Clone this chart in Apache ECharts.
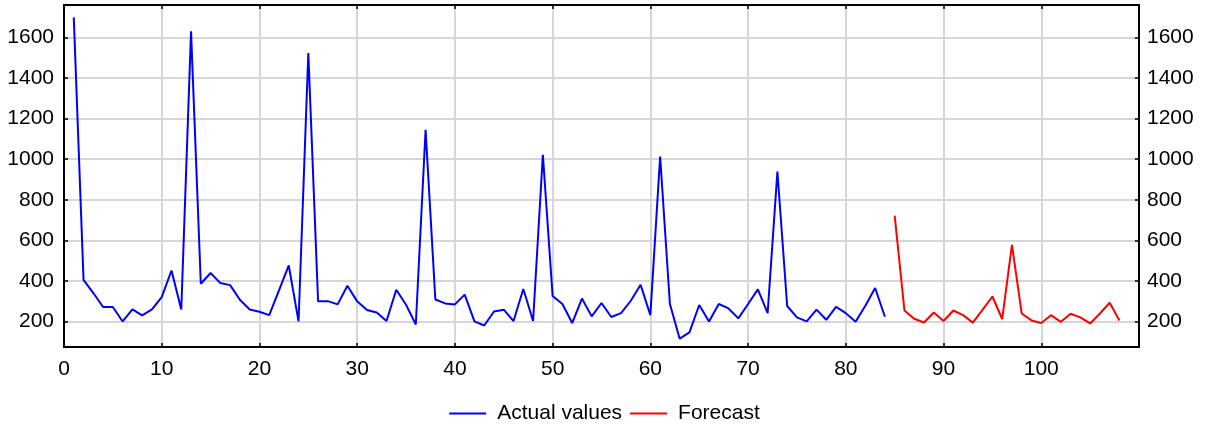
<!DOCTYPE html>
<html>
<head>
<meta charset="utf-8">
<script src="https://cdn.jsdelivr.net/npm/echarts@6/dist/echarts.min.js"></script>
<style>
html,body{margin:0;padding:0;background:#fff;}
#chart{width:1209px;height:427px;}
</style>
</head>
<body>
<div id="chart"></div>
<script>
// Actual values, periods 1..84
const actualValues = [
  1699, 405, 340, 271, 271, 200, 259, 230, 259, 320,
  451, 259, 1630, 386, 439, 389, 379, 307, 259, 248,
  231, 353, 476, 200, 1523, 299, 300, 284, 376, 299,
  256, 244, 202, 356, 282, 185, 1145, 308, 289, 284,
  332, 200, 180, 249, 258, 202, 360, 202, 1022, 325,
  286, 192, 313, 225, 291, 222, 241, 302, 381, 231,
  1013, 286, 115, 146, 281, 200, 286, 264, 215, 286,
  358, 241, 939, 276, 220, 200, 258, 208, 272, 241,
  198, 277, 365, 223
];
// Forecast values, periods 85..108
const forecastValues = [
  722, 254, 213, 195, 244, 202, 254, 231, 194, 258,
  323, 212, 577, 239, 205, 192, 231, 198, 238, 220,
  190, 239, 292, 205
];
const forecastStart = 85;
const xTickLabels = [0, 10, 20, 30, 40, 50, 60, 70, 80, 90, 100];
const yTickLabels = [200, 400, 600, 800, 1000, 1200, 1400, 1600];
const seriesNames = ['Actual values', 'Forecast'];

const actualData = actualValues.map((v, i) => [i + 1, v]);
const forecastData = forecastValues.map((v, i) => [forecastStart + i, v]);

const FONT = 'Liberation Sans, Arial, sans-serif';
const gridColor = '#d6d6d6';
const plain = v => String(v);

const chart = echarts.init(document.getElementById('chart'), null, {renderer: 'canvas'});

const yCommon = {
  type: 'value',
  min: 74,
  max: 1760,
  axisLine: {show: true, onZero: false, lineStyle: {color: '#000', width: 2}},
  axisTick: {show: true, inside: true, length: 4, customValues: yTickLabels, lineStyle: {color: '#000', width: 1.5}},
  axisLabel: {show: true, customValues: yTickLabels, formatter: plain, color: '#000', fontFamily: FONT, fontSize: 21},
  splitLine: {show: false}
};

chart.setOption({
  animation: false,
  backgroundColor: '#fff',
  grid: {left: 64, right: 70, top: 5, bottom: 80, containLabel: false},
  legend: {
    data: seriesNames,
    left: 'center',
    top: 398,
    icon: 'rect',
    itemWidth: 37,
    itemHeight: 2,
    itemGap: 8,
    textStyle: {color: '#000', fontFamily: FONT, fontSize: 21, padding: [0, 0, 0, 6]}
  },
  xAxis: [
    {
      type: 'value', min: 0, max: 110, interval: 10, position: 'bottom',
      axisLine: {show: true, onZero: false, lineStyle: {color: '#000', width: 2}},
      axisTick: {show: true, inside: true, length: 4, lineStyle: {color: '#000', width: 1.5}},
      axisLabel: {show: true, customValues: xTickLabels, formatter: plain, color: '#000', fontFamily: FONT, fontSize: 21, margin: 12},
      splitLine: {show: true, lineStyle: {color: gridColor, width: 2}}
    },
    {
      type: 'value', min: 0, max: 110, interval: 10, position: 'top',
      axisLine: {show: true, onZero: false, lineStyle: {color: '#000', width: 2}},
      axisTick: {show: true, inside: true, length: 4, lineStyle: {color: '#000', width: 1.5}},
      axisLabel: {show: false},
      splitLine: {show: false}
    }
  ],
  yAxis: [
    Object.assign({}, yCommon, {position: 'left',
      axisLabel: Object.assign({}, yCommon.axisLabel, {margin: 10}),
      splitLine: {show: true, lineStyle: {color: gridColor, width: 2}}}),
    Object.assign({}, yCommon, {position: 'right',
      axisLabel: Object.assign({}, yCommon.axisLabel, {margin: 8})})
  ],
  series: [
    {
      name: seriesNames[0], type: 'line', xAxisIndex: 0, yAxisIndex: 0,
      data: actualData, symbol: 'none', color: '#0000ff',
      lineStyle: {color: '#0000ff', width: 2}, z: 3
    },
    {
      name: seriesNames[1], type: 'line', xAxisIndex: 0, yAxisIndex: 0,
      data: forecastData, symbol: 'none', color: '#ff0000',
      lineStyle: {color: '#ff0000', width: 2}, z: 3
    }
  ]
});
</script>
</body>
</html>
